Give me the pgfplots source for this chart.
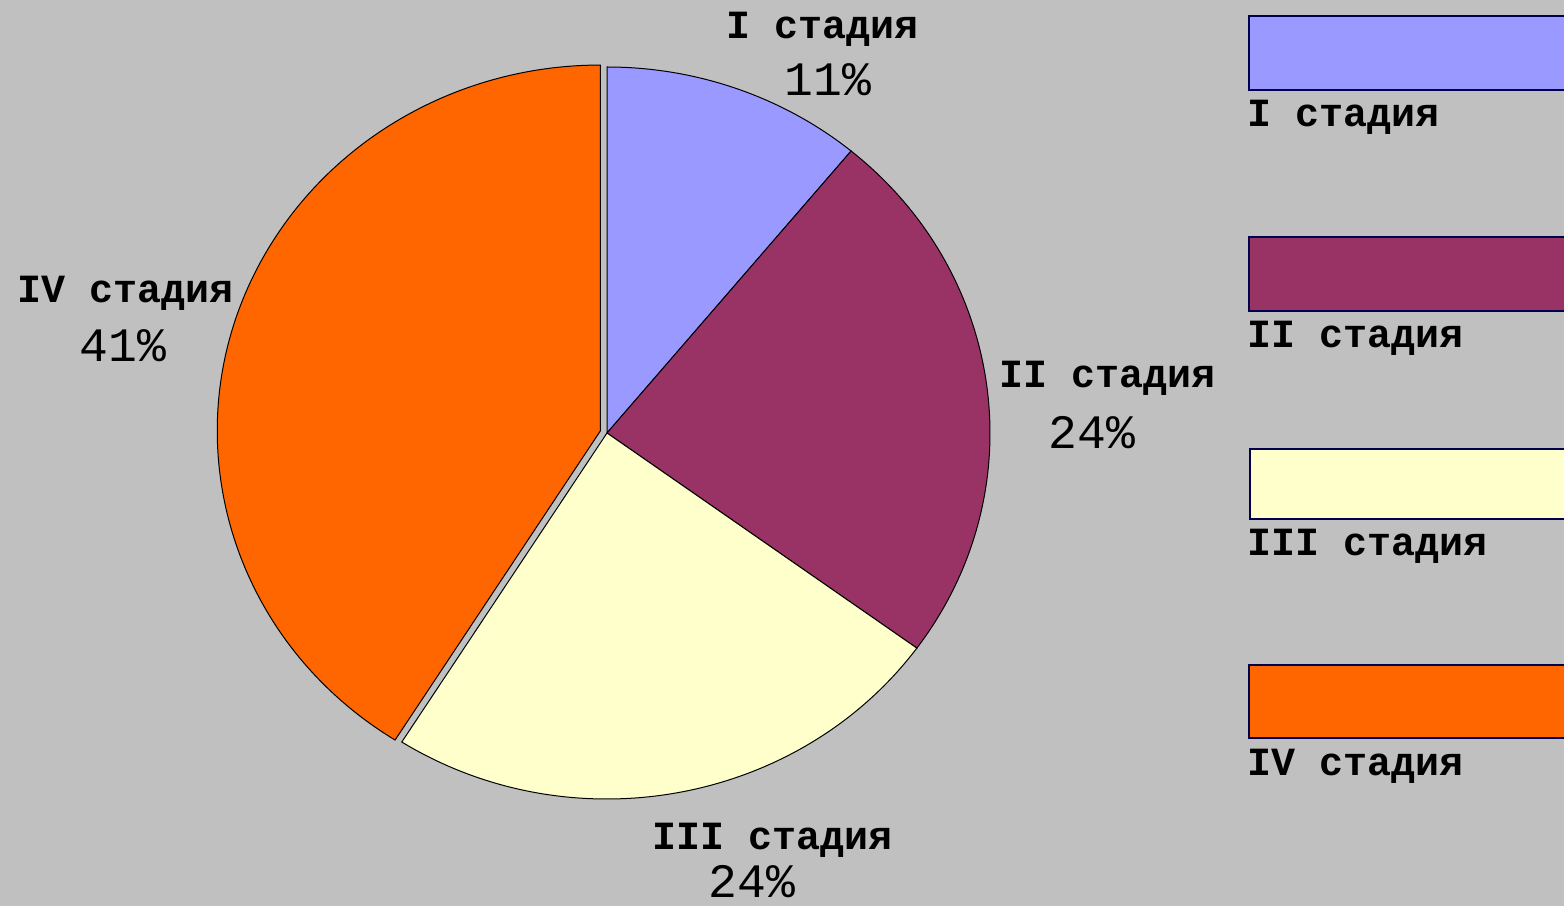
\documentclass[border=0pt]{standalone}
\usepackage{pgfplots}
\usepackage{pgfplotstable}
\pgfplotsset{compat=1.18}
\usepackage{fontspec}
\setmainfont{Liberation Mono}
\definecolor{bg}{HTML}{C0C0C0}
\definecolor{cI}{HTML}{9999FF}
\definecolor{cII}{HTML}{993366}
\definecolor{cIII}{HTML}{FFFFCC}
\definecolor{cIV}{HTML}{FF6600}
\newcommand\lab{\fontsize{40}{40}\selectfont\bfseries}
\newcommand\num{\fontsize{48}{48}\selectfont}

\pgfplotstableread{
stage value
I 11
II 24
III 24
IV 41
}\piedata

\begin{document}
\begin{tikzpicture}
\pgfplotstablegetelem{0}{value}\of\piedata \edef\vA{\pgfplotsretval}
\pgfplotstablegetelem{1}{value}\of\piedata \edef\vB{\pgfplotsretval}
\pgfplotstablegetelem{2}{value}\of\piedata \edef\vC{\pgfplotsretval}
\pgfplotstablegetelem{3}{value}\of\piedata \edef\vD{\pgfplotsretval}
\pgfmathsetmacro\aA{90}
\pgfmathsetmacro\aB{\aA-3.6*\vA}
\pgfmathsetmacro\aC{\aB-3.6*\vB}
\pgfmathsetmacro\aD{\aC-3.6*\vC}
\pgfmathsetmacro\aE{\aD-3.6*\vD}
\pgfmathsetmacro\mD{(\aD+\aE)/2}
\pgfmathsetmacro\cxD{607+7*cos(\mD)}
\pgfmathsetmacro\cyD{473+7*sin(\mD)}
\begin{axis}[width=1564pt,height=906pt,scale only axis,
  xmin=0,xmax=1564,ymin=0,ymax=906,hide axis]
\fill[bg] (axis cs:0,0) rectangle (axis cs:1564,906);
% pie slices
\filldraw[fill=cI,draw=black,line width=1pt] (axis cs:607,473) -- (axis cs:{607+383*cos(\aA)},{473+366*sin(\aA)}) arc[start angle=\aA,end angle=\aB,x radius=383,y radius=366] -- cycle;
\filldraw[fill=cII,draw=black,line width=1pt] (axis cs:607,473) -- (axis cs:{607+383*cos(\aB)},{473+366*sin(\aB)}) arc[start angle=\aB,end angle=\aC,x radius=383,y radius=366] -- cycle;
\filldraw[fill=cIII,draw=black,line width=1pt] (axis cs:607,473) -- (axis cs:{607+383*cos(\aC)},{473+366*sin(\aC)}) arc[start angle=\aC,end angle=\aD,x radius=383,y radius=366] -- cycle;
\filldraw[fill=cIV,draw=black,line width=1pt] (axis cs:\cxD,\cyD) -- (axis cs:{\cxD+383*cos(\aD)},{\cyD+366*sin(\aD)}) arc[start angle=\aD,end angle=\aE,x radius=383,y radius=366] -- cycle;
% labels
\node[font=\lab] at (axis cs:823,877) {I стадия};
\node[font=\num] at (axis cs:828,826) {11\%};
\node[font=\lab] at (axis cs:1108,528) {II стадия};
\node[font=\num] at (axis cs:1092,473) {24\%};
\node[font=\lab] at (axis cs:773,66) {III стадия};
\node[font=\num,inner sep=1pt] at (axis cs:752,24) {24\%};
\node[font=\lab] at (axis cs:126,613) {IV стадия};
\node[font=\num] at (axis cs:123,560) {41\%};
% legend
\filldraw[fill=cI,draw=black!70!blue,line width=1.2pt] (axis cs:1249,890) rectangle (axis cs:1570,816);
\filldraw[fill=cII,draw=black!70!blue,line width=1.2pt] (axis cs:1249,669) rectangle (axis cs:1570,595);
\filldraw[fill=cIII,draw=black!70!blue,line width=1.2pt] (axis cs:1250,457) rectangle (axis cs:1570,387);
\filldraw[fill=cIV,draw=black!70!blue,line width=1.2pt] (axis cs:1249,241) rectangle (axis cs:1570,168);
\node[anchor=west,font=\lab,inner sep=0pt] at (axis cs:1247,789) {I стадия};
\node[anchor=west,font=\lab,inner sep=0pt] at (axis cs:1247,568) {II стадия};
\node[anchor=west,font=\lab,inner sep=0pt] at (axis cs:1247,360) {III стадия};
\node[anchor=west,font=\lab,inner sep=0pt] at (axis cs:1247,140) {IV стадия};
\end{axis}
\pgfresetboundingbox
\path[use as bounding box] (current axis.south west) rectangle (current axis.north east);
\end{tikzpicture}
\end{document}
